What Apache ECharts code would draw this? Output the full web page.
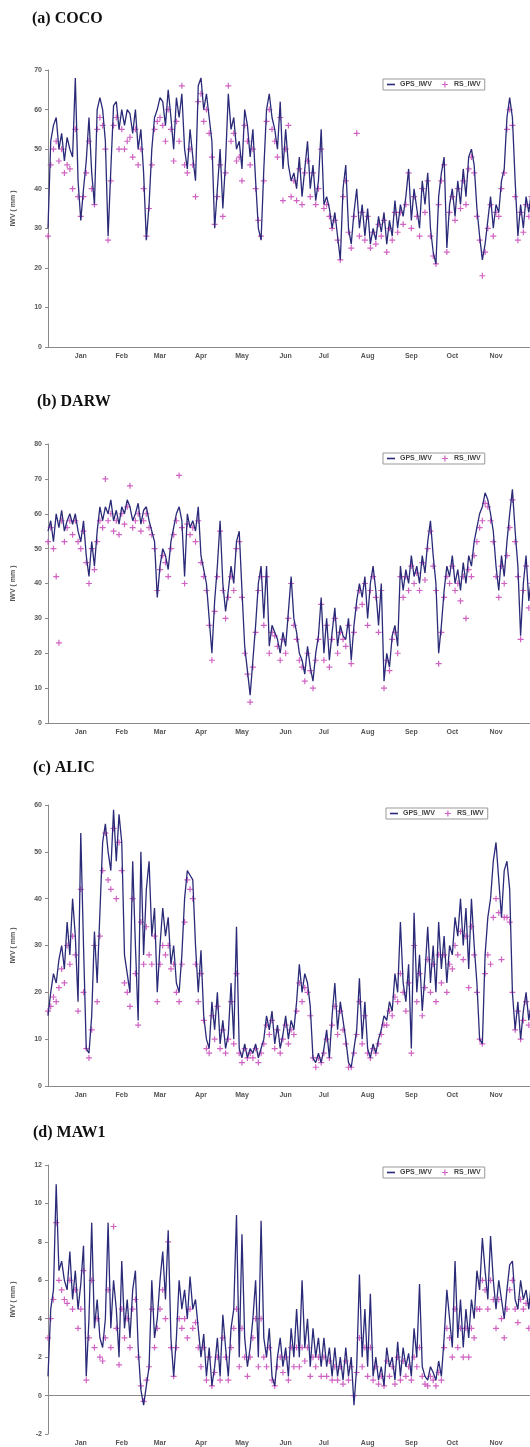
<!DOCTYPE html>
<html>
<head>
    <meta charset="UTF-8">
    <title>IWV GPS vs RS</title>
    <script src="https://cdn.jsdelivr.net/npm/echarts@6/dist/echarts.min.js"></script>
    <style>
        html, body { margin: 0; padding: 0; background: #fff; overflow: hidden; }
    </style>
</head>
<body>
    <div id="main" style="width: 560px;height:1447px;"></div>
    <script type="text/javascript">
        // month labels and the point index (2-day steps) where each one sits
        var monthNames = ['Jan', 'Feb', 'Mar', 'Apr', 'May', 'Jun', 'Jul', 'Aug', 'Sep', 'Oct', 'Nov'];
        var monthIdx = [12, 27, 41, 56, 71, 87, 101, 117, 133, 148, 164];
        var nPoints = 180;

        // (a) COCO
        var gpsCoco = [30, 52, 56, 58, 50, 54, 47, 53, 50, 48,
            68, 42, 32, 40, 47, 58, 44, 36, 60, 63,
            60, 52, 28, 45, 61, 62, 55, 60, 56, 60,
            59, 54, 60, 50, 55, 44, 27, 36, 50, 58,
            60, 63, 62, 56, 65, 58, 50, 63, 58, 64,
            50, 45, 55, 48, 42, 66, 68, 60, 64, 58,
            52, 30, 40, 50, 35, 47, 64, 55, 58, 50,
            52, 45, 60, 56, 48, 55, 42, 30, 27, 45,
            60, 64, 58, 55, 50, 62, 45, 55, 46, 42,
            44, 40, 48, 38, 45, 52, 40, 46, 37, 42,
            55, 36, 38, 35, 30, 34, 28, 22, 40, 46,
            30, 26, 34, 40, 30, 36, 28, 35, 26, 30,
            27, 33, 29, 34, 26, 32, 28, 37, 30, 36,
            33, 38, 45, 32, 40, 35, 30, 42, 36, 44,
            30, 24, 21, 38, 44, 48, 25, 36, 40, 33,
            42, 36, 45, 38, 48, 50, 46, 35, 28, 22,
            26, 32, 38, 30, 36, 34, 42, 45, 58, 63,
            58, 42, 28, 36, 30, 38, 34, 40, 36, 38];
        var rsCoco = [28, 46, 50, 52, 47, 50, 44, 46, 45, 40,
            55, 38, 33, 38, 44, 52, 40, 36, 55, 58,
            56, 50, 27, 42, 56, 58, 50, 55, 50, 52,
            53, 48, 55, 46, 50, 40, 28, 35, 46, 55,
            57, 58, 56, 52, 60, 55, 47, 57, 52, 66,
            46, 44, 50, 46, 38, 62, 64, 57, 60, 54,
            48, 31, 38, 46, 33, 44, 66, 52, 54, 47,
            48, 42, 56, 52, 46, 50, 40, 32, 28, 42,
            57, 60, 55, 52, 48, 58, 37, 50, 56, 38,
            42, 37, 45, 36, 44, 47, 38, 44, 36, 40,
            50, 35, 36, 33, 30, 32, 27, 22, 38, 42,
            29, 25, 33, 54, 28, 34, 27, 33, 25, 29,
            26, 31, 28, 32, 24, 30, 27, 34, 29, 34,
            31, 36, 44, 30, 38, 33, 28, 40, 34, 42,
            28, 23, 21, 36, 42, 46, 24, 34, 38, 32,
            40, 35, 42, 36, 45, 48, 44, 33, 27, 18,
            24, 30, 36, 28, 34, 33, 40, 44, 55, 60,
            56, 38, 27, 34, 29, 36, 33, 38, 35, 36];

        // (b) DARW
        var gpsDarw = [55, 58, 52, 60, 56, 61, 55, 58, 60, 57,
            60, 55, 52, 58, 48, 42, 52, 45, 55, 62,
            58, 62, 60, 64, 58, 61, 57, 62, 60, 64,
            62, 58, 60, 63, 57, 61, 62, 58, 55, 52,
            36, 45, 50, 48, 44, 52, 56, 60, 62, 58,
            42, 60, 56, 58, 55, 62, 48, 44, 40, 30,
            20, 35, 45, 58, 40, 32, 38, 45, 40, 52,
            55, 38, 22, 15, 8, 18, 28, 40, 45, 30,
            45, 22, 28, 26, 24, 20, 26, 22, 32, 42,
            30, 26, 20, 18, 14, 22, 16, 12, 20, 25,
            36, 20, 30, 18, 26, 33, 22, 28, 25, 24,
            30, 18, 28, 35, 40, 36, 42, 30, 40, 45,
            38, 28, 40, 12, 20, 16, 25, 28, 22, 45,
            38, 44, 40, 48, 42, 45, 40, 48, 43, 52,
            58, 48, 40, 20, 28, 38, 45, 42, 48, 40,
            44, 38, 46, 40, 48, 45, 52, 56, 60, 62,
            66, 64, 60, 55, 45, 38, 48, 42, 52, 60,
            67, 55, 45, 25, 40, 48, 35, 42, 38, 45];
        var rsDarw = [52, 56, 50, 42, 23, 58, 52, 56, 58, 54,
            58, 52, 50, 55, 46, 40, 50, 44, 52, 58,
            56, 70, 58, 60, 55, 58, 54, 60, 57, 62,
            68, 56, 58, 60, 55, 58, 60, 56, 54, 50,
            38, 44, 48, 46, 42, 50, 54, 58, 71, 56,
            40, 57, 54, 56, 52, 58, 46, 42, 38, 28,
            18, 32, 42, 55, 38, 30, 36, 42, 38, 50,
            52, 36, 20, 14, 6, 16, 26, 38, 42, 28,
            42, 20, 26, 25, 22, 18, 24, 20, 30, 40,
            28, 24, 18, 16, 12, 20, 15, 10, 18, 24,
            34, 18, 28, 16, 24, 30, 20, 26, 24, 22,
            28, 17, 26, 33, 38, 34, 40, 28, 38, 42,
            36, 26, 38, 10, 18, 15, 24, 26, 20, 42,
            36, 42, 38, 45, 40, 43, 38, 46, 41, 50,
            55, 45, 38, 17, 26, 36, 42, 40, 45, 38,
            40, 35, 42, 30, 44, 42, 48, 52, 56, 58,
            63, 62, 58, 52, 42, 36, 45, 40, 48, 56,
            64, 52, 42, 24, 38, 45, 33, 40, 36, 42];

        // (c) ALIC
        var gpsAlic = [15, 20, 24, 22, 27, 30, 25, 35, 28, 40,
            32, 18, 54, 30, 8, 7, 15, 33, 22, 37,
            52, 56, 50, 46, 59, 48, 58, 52, 28, 24,
            20, 48, 30, 14, 50, 28, 42, 48, 32, 38,
            20, 30, 38, 32, 36, 26, 30, 22, 20, 28,
            40, 46, 45, 44, 30, 20, 29, 15, 10, 8,
            18, 12, 20, 9, 14, 8, 11, 22, 10, 34,
            8, 6, 9, 6, 8, 7, 9, 6, 8, 10,
            15, 12, 16, 9, 13, 8, 11, 15, 10, 14,
            12, 18, 26, 20, 24, 22, 17, 6, 5, 7,
            5, 8, 12, 6, 15, 22, 12, 18, 14, 10,
            5, 4, 8, 12, 23, 10, 18, 8, 6, 9,
            7, 10, 12, 15, 14, 18, 16, 24, 20, 35,
            22, 18, 26, 8, 37, 20, 28, 16, 24, 34,
            22, 30, 20, 35, 25, 32, 22, 30, 28, 36,
            32, 40, 30, 38, 25, 40, 30, 22, 10, 9,
            28, 36, 40, 48, 52, 44, 36, 46, 48, 42,
            20, 12, 18, 10, 16, 20, 14, 18, 12, 16];
        var rsAlic = [16, 17, 19, 18, 21, 25, 22, 30, 26, 32,
            28, 16, 42, 20, 8, 6, 12, 30, 18, 32,
            46, 54, 44, 42, 55, 40, 52, 46, 22, 20,
            17, 40, 24, 13, 35, 26, 34, 28, 26, 32,
            18, 26, 30, 28, 30, 25, 26, 20, 18, 26,
            35, 44, 42, 40, 26, 18, 24, 14, 8, 7,
            15, 10, 17, 8, 12, 7, 10, 18, 9, 24,
            7, 5, 8, 6, 7, 6, 8, 5, 7, 9,
            13, 11, 14, 8, 12, 7, 10, 13, 9, 12,
            11, 16, 22, 18, 21, 20, 15, 6, 4, 6,
            5, 7, 10, 6, 13, 17, 11, 16, 12, 9,
            4, 4, 7, 11, 18, 9, 15, 7, 6, 8,
            7, 9, 11, 13, 13, 16, 15, 19, 18, 24,
            20, 16, 22, 7, 30, 18, 24, 15, 21, 27,
            20, 26, 18, 28, 22, 28, 20, 26, 25, 30,
            28, 33, 27, 32, 21, 34, 28, 20, 10, 9,
            24, 28, 26, 36, 40, 37, 27, 36, 36, 35,
            20, 12, 16, 10, 14, 18, 13, 16, 11, 15];

        // (d) MAW1
        var gpsMaw1 = [1, 4.5, 5.5, 11, 6.5, 7, 6, 5.5, 7.5, 5,
            6.5, 4.5, 5.8, 7.8, 1, 4, 9, 3.5, 5, 3,
            2.5, 4, 9, 3.5, 6, 4.5, 2, 7, 3.5, 5,
            3, 5.5, 6.5, 2.5, 0.3, -0.5, 0.5, 1.5, 6, 3,
            4, 6, 7.5, 5, 8.6, 3, 1, 3, 6, 4.5,
            5.5, 4, 6.2, 4.5, 5, 3.5, 2, 3.2, 1, 2.5,
            0.5, 1.5, 3, 1, 4.2, 2.5, 1, 3.5, 4.5, 9.4,
            2, 8.4, 3, 1.5, 2.5, 4, 6, 2, 9.1, 3,
            2, 3.5, 1, 0.5, 2, 3, 1.5, 2.5, 1, 3.5,
            2, 4.5, 2, 6, 2.5, 4, 1.5, 3.5, 2, 3,
            1.5, 3, 1.5, 2.5, 1, 2.5, 1, 2, 0.8, 2.5,
            1, 2, -0.5, 1.5, 6.3, 2, 4.5, 1.5, 5.3, 1,
            2, 0.8, 1.5, 0.5, 2.5, 1.5, 2, 0.8, 2.8, 1,
            2.5, 1.5, 2.2, 1, 3.5, 2, 5.8, 1.5, 1, 0.8,
            1.5, 1.2, 0.8, 1.8, 1, 3, 5.5, 4, 2.5, 7,
            3, 5, 2.5, 4.5, 3, 5, 4, 6.5, 5.5, 8.2,
            6.5, 5, 8.3, 6, 4.5, 6, 5, 4, 5.5, 6.8,
            7, 5, 4.5, 6, 5, 5.5, 4.5, 6, 5, 5.5];
        var rsMaw1 = [3, 4, 5, 9, 6, 5.5, 5, 4.8, 6, 4.5,
            5.5, 3.5, 4.5, 6.5, 0.8, 3, 6, 2.5, 4, 2,
            1.8, 3, 5.5, 2.5, 8.8, 3.5, 1.6, 4.5, 3, 4,
            2.5, 4.5, 5, 2, 0.5, -0.3, 0.8, 1.5, 4.5, 2.5,
            3.5, 4.5, 5.5, 4, 8, 2.5, 1, 2.5, 4, 3.5,
            4, 3, 4.5, 3.5, 3.8, 2.5, 1.5, 2.5, 0.8, 2,
            0.5, 1.2, 2, 0.8, 3, 2, 0.8, 2.5, 3.5, 4.5,
            1.5, 3.5, 2, 1, 2, 3, 4, 1.5, 4, 2,
            1.5, 2.5, 0.8, 0.5, 1.5, 2, 1.2, 2, 0.8, 2.5,
            1.5, 2.5, 1.5, 2.5, 1.8, 2.5, 1, 2, 1.5, 2,
            1, 2, 1, 1.8, 0.8, 1.5, 0.8, 1.5, 0.6, 1.8,
            0.8, 1.5, 0, 1.2, 3, 1.5, 2.5, 1, 2.5, 0.8,
            1.5, 0.6, 1, 0.5, 1.8, 1, 1.5, 0.6, 2, 0.8,
            1.8, 1, 1.5, 0.8, 2, 1.5, 2.5, 1, 0.6, 0.5,
            1, 0.8, 0.5, 1.2, 0.8, 2.5, 3.5, 3, 2, 4.5,
            2.5, 3.5, 2, 3.5, 2, 3.5, 3, 4.5, 4.5, 6,
            5.5, 4.5, 6, 5, 3.5, 5, 4, 3, 4.5, 5.5,
            6, 4.5, 3.8, 5, 4.5, 4.8, 3.5, 5, 4.5, 5];

        var myChart = echarts.init(document.getElementById('main'));

        // x categories: one per point, month name only at mid-month
        var cats = [];
        for (var i = 0; i < nPoints; i++) cats.push('');
        monthIdx.forEach(function (idx, k) { cats[idx] = monthNames[k]; });

        // panel layout: title, y range, grid top/height, data
        var panels = [
            { title: '(a) COCO', tx: 27, ty: 6, min: 0, max: 70, step: 10, top: 70, height: 277, legendX: 383, legendY: 79, gps: gpsCoco, rs: rsCoco },
            { title: '(b) DARW', tx: 32, ty: 389, min: 0, max: 80, step: 10, top: 444, height: 279, legendX: 383, legendY: 453, gps: gpsDarw, rs: rsDarw },
            { title: '(c) ALIC', tx: 28, ty: 755, min: 0, max: 60, step: 10, top: 805, height: 281, legendX: 386, legendY: 808, gps: gpsAlic, rs: rsAlic },
            { title: '(d) MAW1', tx: 28, ty: 1120, min: -2, max: 12, step: 2, top: 1165, height: 277, legendX: 383, legendY: 1167, gps: gpsMaw1, rs: rsMaw1 }
        ];

        var plusPath = 'path://M4,0h2v4h4v2h-4v4h-2v-4h-4v-2h4z';
        var dashPath = 'path://M0,4h10v2h-10z';
        var titles = [], grids = [], xAxes = [], yAxes = [], legends = [], series = [];

        panels.forEach(function (p, k) {
            titles.push({
                text: p.title, left: p.tx, top: p.ty,
                textStyle: { fontFamily: 'Liberation Serif', fontWeight: 'bold', fontSize: 16, color: '#111' }
            });
            grids.push({ left: 48, width: 489, top: p.top, height: p.height });
            xAxes.push({
                type: 'category', gridIndex: k, data: cats, boundaryGap: false,
                axisLine: { lineStyle: { color: '#8a8a8a', width: 1 } },
                axisTick: { show: false },
                axisLabel: { interval: 0, fontSize: 7, color: '#555', fontWeight: 'bold', margin: 6 }
            });
            yAxes.push({
                type: 'value', gridIndex: k, min: p.min, max: p.max, interval: p.step,
                name: 'IWV ( mm )', nameLocation: 'middle', nameGap: 31, nameRotate: 90,
                nameTextStyle: { fontSize: 7, color: '#555', fontWeight: 'bold' },
                axisLine: { show: true, lineStyle: { color: '#8a8a8a' } },
                axisTick: { show: true, length: 3, lineStyle: { color: '#8a8a8a' } },
                axisLabel: { fontSize: 7, color: '#555', fontWeight: 'bold', margin: 6 },
                splitLine: { show: false }
            });
            legends.push({
                left: p.legendX, top: p.legendY, orient: 'horizontal',
                data: [{ name: 'GPS_IWV', icon: dashPath }, { name: 'RS_IWV', icon: plusPath }],
                borderColor: '#999', borderWidth: 1, borderRadius: 0,
                padding: [2, 4], itemGap: 10, itemWidth: 8, itemHeight: 6,
                textStyle: { fontSize: 7, color: '#444', fontWeight: 'bold' }
            });
            series.push({
                name: 'GPS_IWV', type: 'line', xAxisIndex: k, yAxisIndex: k,
                data: p.gps, symbol: 'none',
                lineStyle: { width: 1.3, color: '#2a2a78' },
                itemStyle: { color: '#2a2a78' }
            });
            series.push({
                name: 'RS_IWV', type: 'scatter', xAxisIndex: k, yAxisIndex: k,
                data: p.rs, symbol: plusPath, symbolSize: 6,
                itemStyle: { color: '#c846b8', opacity: 0.85 }
            });
        });

        var option = {
            animation: false,
            backgroundColor: '#fff',
            title: titles,
            grid: grids,
            xAxis: xAxes,
            yAxis: yAxes,
            legend: legends,
            series: series
        };

        myChart.setOption(option);
    </script>
</body>
</html>
